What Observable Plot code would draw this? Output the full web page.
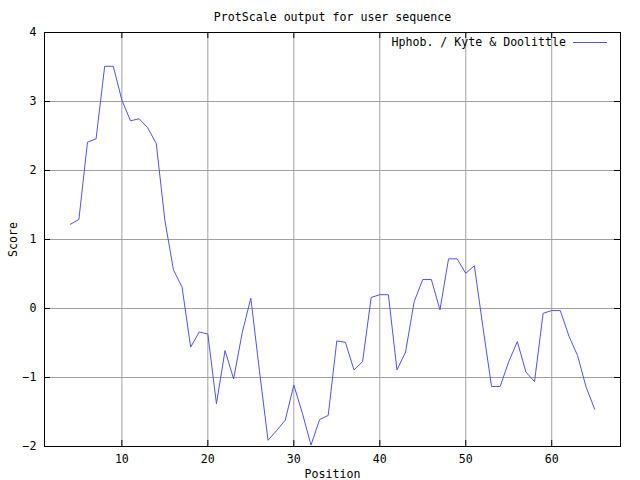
<!DOCTYPE html>
<html>
<head>
<meta charset="utf-8">
<script src="https://cdn.jsdelivr.net/npm/d3@7"></script>
<script src="https://cdn.jsdelivr.net/npm/@observablehq/plot@0.6"></script>
<style>
  html, body { margin: 0; padding: 0; background: #fff; }
  svg { display: block; }
</style>
</head>
<body>
<div id="chart"></div>
<script>
const titleText = "ProtScale output for user sequence";
const seriesName = "Hphob. / Kyte & Doolittle";
const xLabel = "Position";
const yLabel = "Score";

const positions = [4,5,6,7,8,9,10,11,12,13,14,15,16,17,18,19,20,21,22,23,24,25,26,27,28,29,30,31,32,33,34,35,36,37,38,39,40,41,42,43,44,45,46,47,48,49,50,51,52,53,54,55,56,57,58,59,60,61,62,63,64,65];
const scores = [1.22,1.29,2.41,2.46,3.51,3.51,3.02,2.72,2.75,2.62,2.39,1.28,0.56,0.31,-0.56,-0.34,-0.37,-1.38,-0.61,-1.02,-0.35,0.15,-0.9,-1.91,-1.77,-1.62,-1.11,-1.52,-1.98,-1.61,-1.55,-0.47,-0.49,-0.89,-0.77,0.16,0.20,0.20,-0.89,-0.63,0.10,0.42,0.42,-0.02,0.72,0.72,0.51,0.62,-0.27,-1.13,-1.13,-0.77,-0.48,-0.92,-1.06,-0.07,-0.03,-0.03,-0.40,-0.68,-1.14,-1.46];
const xTicks = [10,20,30,40,50,60];
const yTicks = [-2,-1,0,1,2,3,4];
const xDomain = [1,68];
const yDomain = [-2,4];

const data = positions.map((p, i) => ({position: p, score: scores[i]}));

const W = 640, H = 480;
const mL = 44, mR = 20, mT = 32, mB = 34;
const plotW = W - mL - mR, plotH = H - mT - mB;
const tickLen = 6;
const font = "'DejaVu Sans Mono', 'Liberation Mono', monospace";
const lineColor = "#5050ff";

function legendMark(index, scales, values, dims) {
  const g = d3.create("svg:g");
  const right = dims.width - dims.marginRight;
  const y = dims.marginTop + 10;
  g.append("line")
    .attr("x1", right - 47).attr("x2", right - 13)
    .attr("y1", y + 0.5).attr("y2", y + 0.5)
    .attr("stroke", lineColor).attr("stroke-width", 1);
  g.append("text")
    .attr("x", right - 54).attr("y", y)
    .attr("dy", "0.35em")
    .attr("text-anchor", "end")
    .attr("font-family", font).attr("font-size", 11.6)
    .attr("fill", "black")
    .text(seriesName);
  return g.node();
}

const chart = Plot.plot({
  width: W, height: H,
  marginLeft: mL, marginRight: mR, marginTop: mT, marginBottom: mB,
  style: {fontFamily: font, fontSize: "11.6px", background: "white", color: "black"},
  x: {domain: xDomain},
  y: {domain: yDomain},
  marks: [
    Plot.gridX(xTicks, {stroke: "#a0a0a0", strokeOpacity: 1, strokeWidth: 1}),
    Plot.gridY(yTicks, {stroke: "#a0a0a0", strokeOpacity: 1, strokeWidth: 1}),
    Plot.tickX(xTicks, {x: d => d, insetTop: plotH - tickLen, stroke: "black"}),
    Plot.tickX(xTicks, {x: d => d, insetBottom: plotH - tickLen, stroke: "black"}),
    Plot.tickY(yTicks, {y: d => d, insetRight: plotW - tickLen, stroke: "black"}),
    Plot.tickY(yTicks, {y: d => d, insetLeft: plotW - tickLen, stroke: "black"}),
    Plot.axisX(xTicks, {tickSize: 0, tickPadding: 8, tickFormat: "d", label: xLabel, labelAnchor: "center", labelArrow: "none", labelOffset: 31}),
    Plot.axisY(yTicks, {tickSize: 0, tickPadding: 8, tickFormat: "d", label: yLabel, labelAnchor: "center", labelArrow: "none", labelOffset: 36}),
    Plot.line(data, {x: "position", y: "score", stroke: lineColor, strokeWidth: 1}),
    Plot.frame({stroke: "black", strokeWidth: 1}),
    Plot.text([titleText], {frameAnchor: "top", dy: -20, text: d => d, fontSize: 11.6, fill: "black"}),
    legendMark
  ]
});
document.getElementById("chart").appendChild(chart);
</script>
</body>
</html>
